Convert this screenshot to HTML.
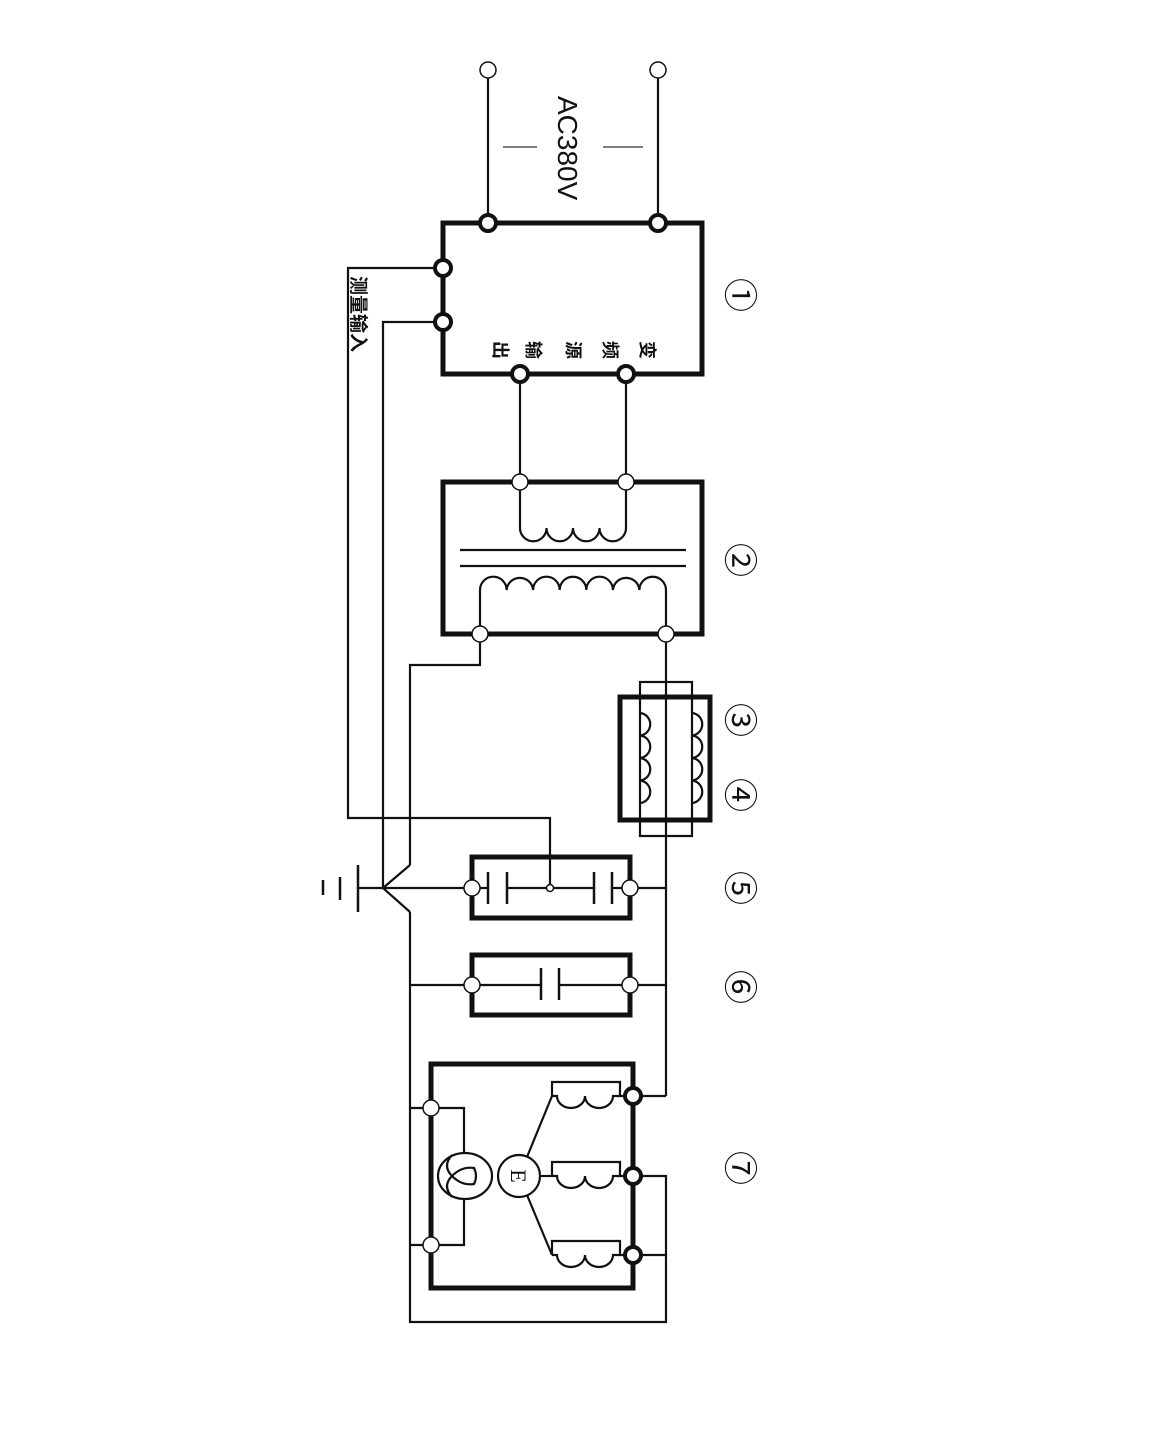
<!DOCTYPE html>
<html><head><meta charset="utf-8"><style>
html,body{margin:0;padding:0;background:#fff;}
svg{display:block;}
text{font-family:"Liberation Sans","Noto Sans CJK SC",sans-serif;fill:#111;}
</style></head><body>
<svg width="1172" height="1446" viewBox="0 0 1172 1446" xmlns="http://www.w3.org/2000/svg">
<g fill="none" stroke="#111" stroke-width="2.2">
<line x1="488" y1="78" x2="488" y2="223"/>
<line x1="658" y1="78" x2="658" y2="223"/>
<line x1="503" y1="147" x2="537" y2="147" stroke="#555" stroke-width="1.5"/>
<line x1="603" y1="147" x2="643" y2="147" stroke="#555" stroke-width="1.5"/>
<rect x="443" y="223" width="259" height="151" stroke-width="5"/>
<polyline points="443,268 348,268 348,818 550,818 550,888"/>
<polyline points="443,322 383,322 383,888"/>
<line x1="520" y1="374" x2="520" y2="482"/>
<line x1="626" y1="374" x2="626" y2="482"/>
<rect x="443" y="482" width="259" height="152" stroke-width="5"/>
<path d="M520,482 V528 A13,13 0 0 0 546.5,528 A13,13 0 0 0 573,528 A13,13 0 0 0 599.5,528 A13,13 0 0 0 626,528 V482"/>
<line x1="460" y1="550" x2="686" y2="550"/>
<line x1="460" y1="566" x2="686" y2="566"/>
<path d="M480,634 V590 A13.3,13.3 0 0 1 506.6,590 A13.3,13.3 0 0 1 533.1,590 A13.3,13.3 0 0 1 559.7,590 A13.3,13.3 0 0 1 586.3,590 A13.3,13.3 0 0 1 612.9,590 A13.3,13.3 0 0 1 639.4,590 A13.3,13.3 0 0 1 666,590 V634"/>
<polyline points="480,634 480,665 410,665 410,865"/>
<line x1="666" y1="634" x2="666" y2="682"/>
<rect x="620" y="697" width="90" height="123" stroke-width="5"/>
<rect x="640" y="682" width="52" height="154"/>
<line x1="666" y1="682" x2="666" y2="1096"/>
<path d="M640,713 A11.3,11.3 0 0 1 640,735.5 A11.3,11.3 0 0 1 640,758 A11.3,11.3 0 0 1 640,780.5 A11.3,11.3 0 0 1 640,803"/>
<path d="M692,713 A11.3,11.3 0 0 1 692,735.5 A11.3,11.3 0 0 1 692,758 A11.3,11.3 0 0 1 692,780.5 A11.3,11.3 0 0 1 692,803"/>
<line x1="358" y1="888" x2="472" y2="888"/>
<line x1="383" y1="888" x2="410" y2="865"/>
<line x1="383" y1="888" x2="410" y2="912"/>
<line x1="358" y1="865" x2="358" y2="912" stroke-width="2.5"/>
<line x1="340" y1="877" x2="340" y2="900" stroke-width="2.5"/>
<line x1="323" y1="880" x2="323" y2="895" stroke-width="2.5"/>
<polyline points="410,912 410,1322 666,1322 666,1176 633,1176"/>
<line x1="633" y1="1255" x2="666" y2="1255"/>
<rect x="472" y="857" width="158" height="61" stroke-width="5"/>
<line x1="472" y1="888" x2="488" y2="888"/>
<line x1="488" y1="872" x2="488" y2="904" stroke-width="2.5"/>
<line x1="507" y1="872" x2="507" y2="904" stroke-width="2.5"/>
<line x1="507" y1="888" x2="594" y2="888"/>
<line x1="594" y1="872" x2="594" y2="904" stroke-width="2.5"/>
<line x1="612" y1="872" x2="612" y2="904" stroke-width="2.5"/>
<line x1="612" y1="888" x2="666" y2="888"/>
<circle cx="550" cy="888" r="3.5" fill="#fff" stroke-width="1.5"/>
<rect x="472" y="955" width="158" height="60" stroke-width="5"/>
<line x1="410" y1="985" x2="541" y2="985"/>
<line x1="559" y1="985" x2="666" y2="985"/>
<line x1="541" y1="968" x2="541" y2="1000" stroke-width="2.5"/>
<line x1="559" y1="968" x2="559" y2="1000" stroke-width="2.5"/>
<rect x="431" y="1064" width="202" height="224" stroke-width="5"/>
<line x1="633" y1="1096" x2="666" y2="1096"/>
<line x1="410" y1="1108" x2="431" y2="1108"/>
<line x1="410" y1="1245" x2="431" y2="1245"/>
<polyline points="431,1108 464,1108 464,1153"/>
<polyline points="431,1245 464,1245 464,1200"/>
<ellipse cx="465" cy="1176" rx="27" ry="23"/>
<path d="M452,1155 Q442,1166 452,1176 Q442,1186 452,1197 M452,1176 Q462,1166 474,1168 Q478,1176 474,1184 Q462,1186 452,1176"/>
<circle cx="519" cy="1176" r="21"/>
<line x1="527" y1="1157" x2="552" y2="1096"/>
<line x1="527" y1="1195" x2="552" y2="1255"/>
<line x1="540" y1="1176" x2="552" y2="1176"/>
<g id="coil">
<polyline points="552,1096 552,1082 620,1082 620,1096 633,1096"/>
<path d="M552,1096 L557,1096 A14,12 0 0 0 585,1096 A14,12 0 0 0 613,1096 L620,1096"/>
</g>
<use href="#coil" transform="translate(0,80)"/>
<use href="#coil" transform="translate(0,159)"/>
</g>
<g fill="#fff" stroke="#111" stroke-width="1.5">
<circle cx="488" cy="70" r="8"/><circle cx="658" cy="70" r="8"/>
<circle cx="520" cy="482" r="8"/><circle cx="626" cy="482" r="8"/>
<circle cx="480" cy="634" r="8"/><circle cx="666" cy="634" r="8"/>
<circle cx="472" cy="888" r="8"/><circle cx="630" cy="888" r="8"/>
<circle cx="472" cy="985" r="8"/><circle cx="630" cy="985" r="8"/>
<circle cx="431" cy="1108" r="8"/><circle cx="431" cy="1245" r="8"/>
</g>
<g fill="#fff" stroke="#111" stroke-width="4">
<circle cx="488" cy="223" r="8"/><circle cx="658" cy="223" r="8"/>
<circle cx="443" cy="268" r="8"/><circle cx="443" cy="322" r="8"/>
<circle cx="520" cy="374" r="8"/><circle cx="626" cy="374" r="8"/>
<circle cx="633" cy="1096" r="8"/><circle cx="633" cy="1176" r="8"/><circle cx="633" cy="1255" r="8"/>
</g>
<text transform="translate(558,96) rotate(90)" font-size="28">AC380V</text>
<g font-size="18" font-weight="bold" text-anchor="middle">
<text transform="translate(647,350) rotate(90)" dy="6">变</text>
<text transform="translate(610,350) rotate(90)" dy="6">频</text>
<text transform="translate(573,350) rotate(90)" dy="6">源</text>
<text transform="translate(533,350) rotate(90)" dy="6">输</text>
<text transform="translate(500,350) rotate(90)" dy="6">出</text>
</g>
<text transform="translate(352,276) rotate(90)" font-size="19" font-weight="bold">测量输入</text>
<g font-size="34" text-anchor="middle">
<text transform="translate(740,295) rotate(90)" dy="12">①</text>
<text transform="translate(740,560) rotate(90)" dy="12">②</text>
<text transform="translate(740,720) rotate(90)" dy="12">③</text>
<text transform="translate(740,795) rotate(90)" dy="12">④</text>
<text transform="translate(740,888) rotate(90)" dy="12">⑤</text>
<text transform="translate(740,987) rotate(90)" dy="12">⑥</text>
<text transform="translate(740,1168) rotate(90)" dy="12">⑦</text>
</g>
<text transform="translate(519,1176) rotate(90)" font-size="22" text-anchor="middle" dy="8" style="font-family:'Liberation Serif',serif">E</text>
</svg>
</body></html>
